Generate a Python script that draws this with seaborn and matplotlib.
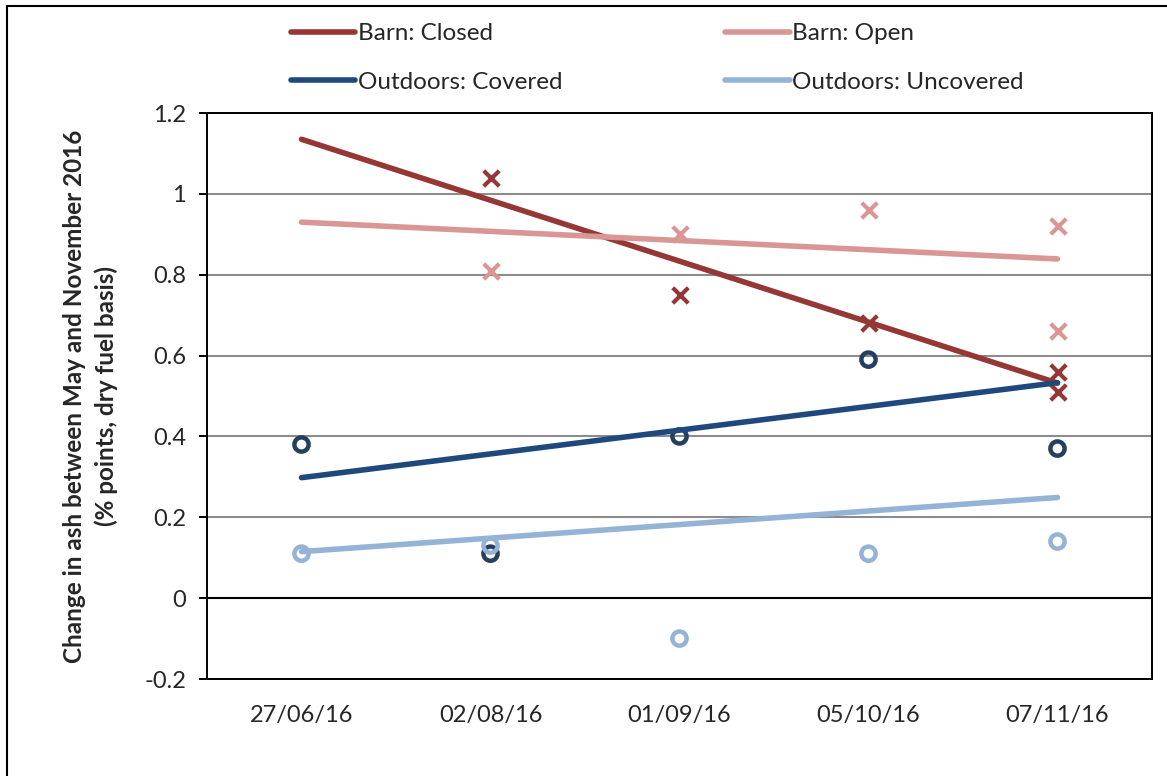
import numpy as np
import pandas as pd
import matplotlib
matplotlib.use("Agg")
import matplotlib.pyplot as plt
import seaborn as sns
from matplotlib.patches import Rectangle

# sample dates (category axis)
dates = ["27/06/16", "02/08/16", "01/09/16", "05/10/16", "07/11/16"]

# measured points
barn_closed_dates = ["02/08/16", "01/09/16", "05/10/16", "07/11/16", "07/11/16"]
barn_closed_vals = [1.04, 0.75, 0.68, 0.56, 0.51]
barn_open_dates = ["02/08/16", "01/09/16", "05/10/16", "07/11/16", "07/11/16"]
barn_open_vals = [0.81, 0.90, 0.96, 0.92, 0.66]
covered_dates = ["27/06/16", "02/08/16", "01/09/16", "05/10/16", "07/11/16"]
covered_vals = [0.38, 0.11, 0.40, 0.59, 0.37]
uncovered_dates = ["27/06/16", "02/08/16", "01/09/16", "05/10/16", "07/11/16"]
uncovered_vals = [0.11, 0.13, -0.10, 0.11, 0.14]

# trend lines (value at first and last date)
trend_dates = ["27/06/16", "07/11/16"]
barn_closed_trend = [1.135, 0.532]
barn_open_trend = [0.93, 0.839]
covered_trend = [0.298, 0.533]
uncovered_trend = [0.115, 0.249]

labels = ["Barn: Closed", "Barn: Open", "Outdoors: Covered", "Outdoors: Uncovered"]
line_colors = ["#953735", "#D99694", "#1F497D", "#95B3D7"]
marker_colors = ["#953735", "#D99694", "#243F60", "#95B3D7"]

sns.set_style("white")
plt.rcParams["font.family"] = ["Lato", "DejaVu Sans"]

fig = plt.figure(figsize=(11.67, 7.76), dpi=100)
ax = fig.add_axes([207 / 1167, 1 - 679 / 776, (1152 - 207) / 1167, (679 - 113) / 776])

def pos(ds):
    return [dates.index(d) for d in ds]

series = [
    (barn_closed_dates, barn_closed_vals, barn_closed_trend, "x"),
    (barn_open_dates, barn_open_vals, barn_open_trend, "x"),
    (covered_dates, covered_vals, covered_trend, "o"),
    (uncovered_dates, uncovered_vals, uncovered_trend, "o"),
]

# gridlines
for g in [0.2, 0.4, 0.6, 0.8, 1.0]:
    ax.axhline(g, color="#8C8C8C", lw=1.5, zorder=1)
ax.axhline(0, color="black", lw=1.5, zorder=1)

handles = []
for i, (ds, vals, trend, mk) in enumerate(series):
    pts = pd.DataFrame({"x": pos(ds), "y": vals})
    if mk == "x":
        sns.scatterplot(data=pts, x="x", y="y", marker="x", s=125,
                        color=marker_colors[i], linewidth=3.0, ax=ax, zorder=3)
    else:
        sns.scatterplot(data=pts, x="x", y="y", marker="o", s=105,
                        facecolor="none", edgecolor=marker_colors[i],
                        linewidth=3.2, ax=ax, zorder=3)
    tr = pd.DataFrame({"x": pos(trend_dates), "y": trend})
    sns.lineplot(data=tr, x="x", y="y", color=line_colors[i], lw=4.0,
                 solid_capstyle="round", ax=ax, zorder=4)
    handles.append(plt.Line2D([], [], color=line_colors[i], lw=4.0,
                              solid_capstyle="round", label=labels[i]))

ax.set_xlim(-0.5, 4.5)
ax.set_ylim(-0.2, 1.2)
ax.set_xticks(range(len(dates)))
ax.set_xticklabels(dates)
ax.set_yticks(np.arange(-0.2, 1.21, 0.2))
ax.set_yticklabels(["-0.2", "0", "0.2", "0.4", "0.6", "0.8", "1", "1.2"])
ax.tick_params(axis="x", length=0, pad=19, labelsize=17)
ax.tick_params(axis="y", length=6, width=1.4, direction="out", left=True,
               pad=9, labelsize=17, color="black")
for sp in ax.spines.values():
    sp.set_visible(True)
    sp.set_color("black")
    sp.set_linewidth(1.4)
ax.set_xlabel("")
ax.set_ylabel("Change in ash between May and November 2016\n(% points, dry fuel basis)",
              fontsize=17.5, fontweight="bold", labelpad=19, linespacing=1.4)

order = [0, 2, 1, 3]
fig.legend([handles[k] for k in order], [labels[k] for k in order],
           ncol=2, loc="upper left", bbox_to_anchor=(291 / 1167, 1 - 23 / 776),
           frameon=False, fontsize=17.5, handlelength=2.65, handletextpad=0.1,
           columnspacing=6.7, labelspacing=1.15, borderpad=0, borderaxespad=0)

# chart border
fig.add_artist(Rectangle((7 / 1167, -0.1), 1.2, 0.1 + 1 - 6 / 776, transform=fig.transFigure,
                         fill=False, edgecolor="black", lw=1.5))

fig.savefig("out.png", dpi=100)
